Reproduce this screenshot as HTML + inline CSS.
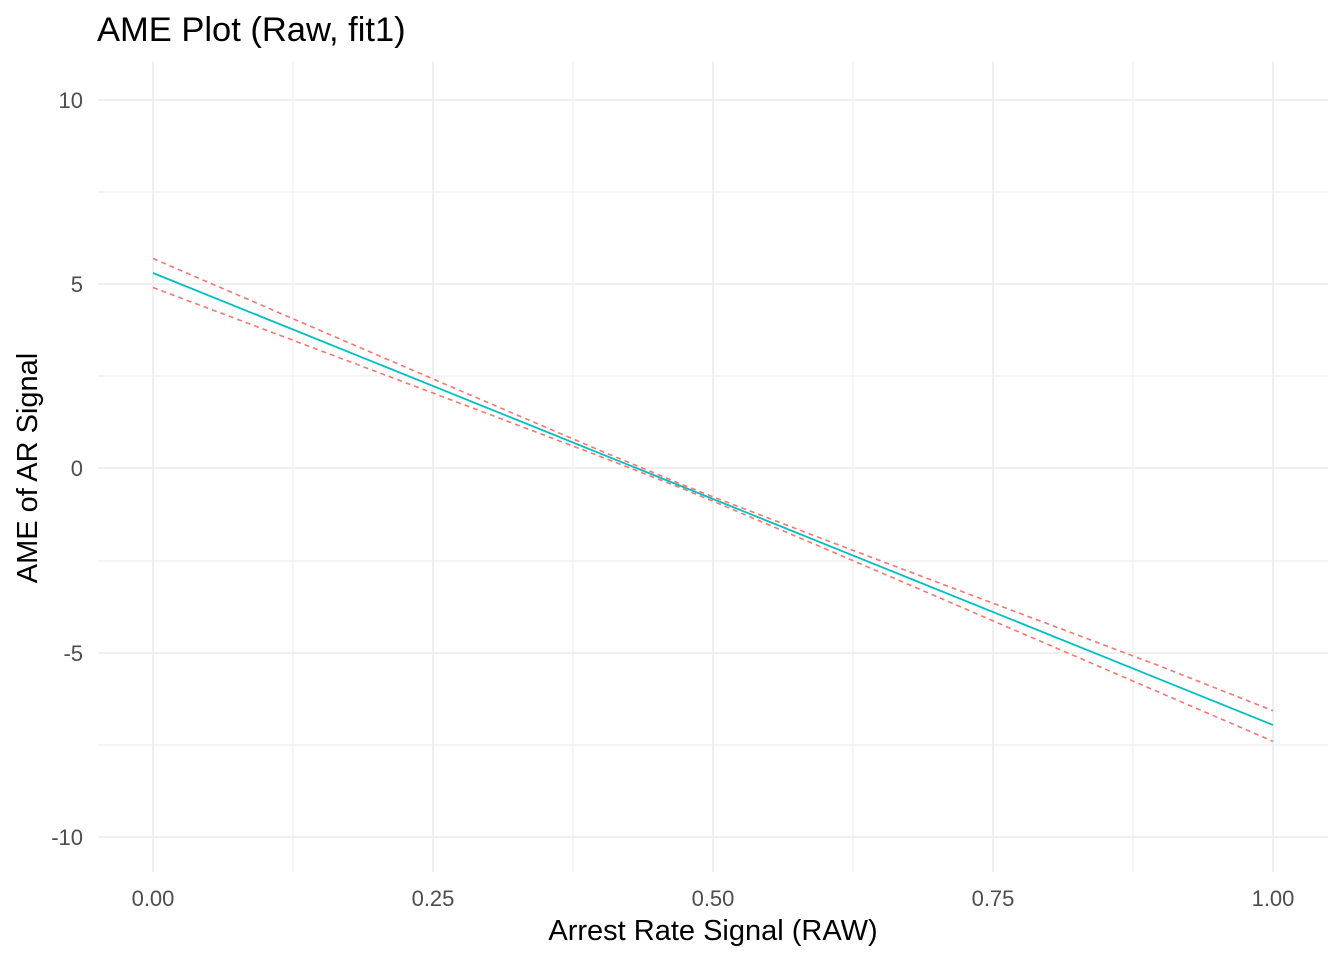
<!DOCTYPE html>
<html><head><style>body{margin:0;background:#fff}</style></head><body>
<svg width="1344" height="960" xmlns="http://www.w3.org/2000/svg" font-family="Liberation Sans, sans-serif">
<rect width="1344" height="960" fill="#fff"/>
<g stroke="#ebebeb" stroke-width="1">
<line x1="98" x2="1328" y1="192" y2="192"/><line x1="98" x2="1328" y1="376" y2="376"/>
<line x1="98" x2="1328" y1="561" y2="561"/><line x1="98" x2="1328" y1="745" y2="745"/>
<line y1="62" y2="872" x1="293" x2="293"/><line y1="62" y2="872" x1="573" x2="573"/>
<line y1="62" y2="872" x1="853" x2="853"/><line y1="62" y2="872" x1="1133" x2="1133"/>
</g>
<g stroke="#ebebeb" stroke-width="1.6">
<line x1="98" x2="1328" y1="100" y2="100"/><line x1="98" x2="1328" y1="284" y2="284"/>
<line x1="98" x2="1328" y1="468" y2="468"/><line x1="98" x2="1328" y1="653" y2="653"/>
<line x1="98" x2="1328" y1="837" y2="837"/>
<line y1="62" y2="872" x1="153" x2="153"/><line y1="62" y2="872" x1="433" x2="433"/>
<line y1="62" y2="872" x1="713" x2="713"/><line y1="62" y2="872" x1="993" x2="993"/>
<line y1="62" y2="872" x1="1273" x2="1273"/>
</g>
<g fill="none" stroke="#f8766d" stroke-width="1.6" stroke-dasharray="5,4">
<polyline points="153,258.5 265,306.7 377,354.9 489,403 601,450.9 679.4,483.4 713,496.8 825,539.8 937,582.1 1049,624.3 1161,666.5 1273,710.7"/>
<polyline points="153,287.5 265,329.7 377,371.9 489,414.2 601,456.7 679.4,487.4 713,501.2 825,548.6 937,596.7 1049,644.9 1161,693.1 1273,741.3"/>
</g>
<line x1="153" y1="273" x2="1273" y2="725" stroke="#00bfc4" stroke-width="1.8"/>
<g fill="#4d4d4d" font-size="22" text-anchor="end">
<text x="83" y="108">10</text><text x="83" y="292">5</text><text x="83" y="476">0</text>
<text x="83" y="661">-5</text><text x="83" y="845">-10</text>
</g>
<g fill="#4d4d4d" font-size="22" text-anchor="middle">
<text x="153" y="906">0.00</text><text x="433" y="906">0.25</text><text x="713" y="906">0.50</text>
<text x="993" y="906">0.75</text><text x="1273" y="906">1.00</text>
</g>
<text x="713" y="940" font-size="29" text-anchor="middle" fill="#000">Arrest Rate Signal (RAW)</text>
<text transform="translate(37,468) rotate(-90)" font-size="29" text-anchor="middle" fill="#000">AME of AR Signal</text>
<text x="97" y="41" font-size="34.5" fill="#000">AME Plot (Raw, fit1)</text>
</svg>
</body></html>
